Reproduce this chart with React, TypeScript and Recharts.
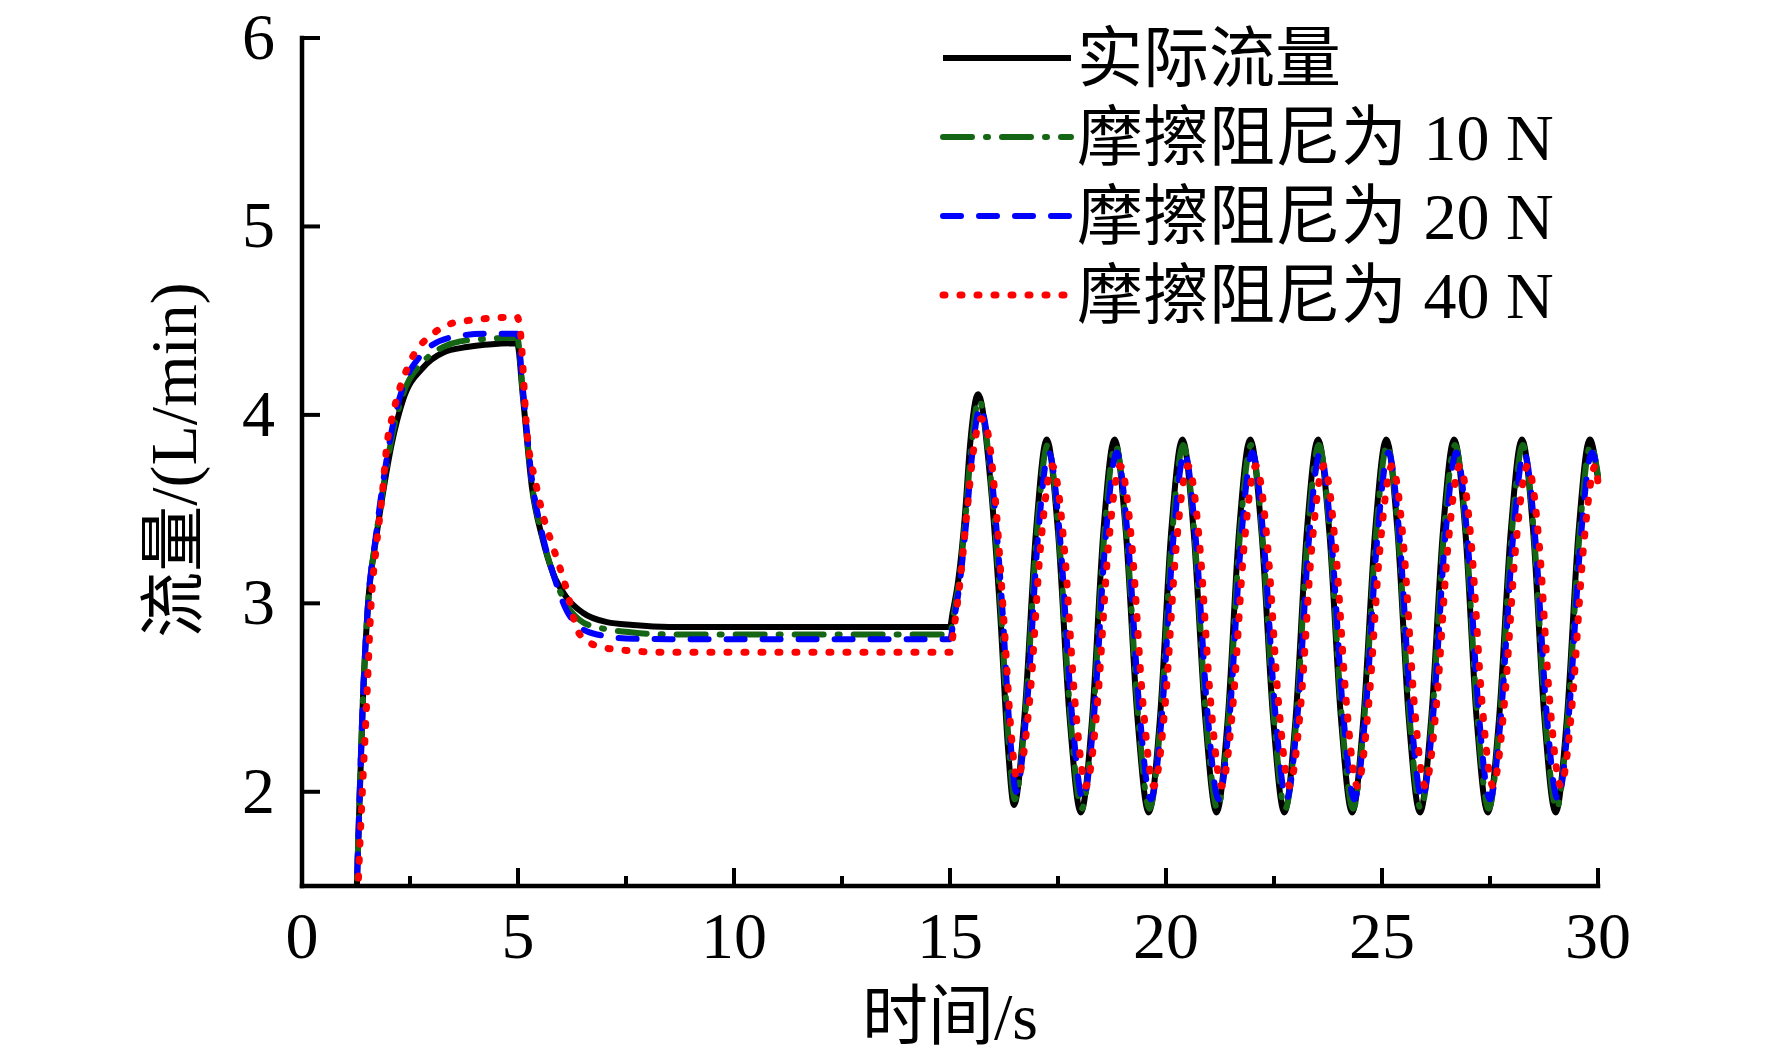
import { LineChart, Line, XAxis, YAxis, Label } from "recharts";

const FONT = '"Liberation Serif", "Times New Roman", "Noto Sans CJK SC", serif';

const xTicks = [0, 2.5, 5, 7.5, 10, 12.5, 15, 17.5, 20, 22.5, 25, 27.5, 30];
const yTicks = [2, 3, 4, 5, 6];
const seriesNames = ["实际流量", "摩擦阻尼为 10 N", "摩擦阻尼为 20 N", "摩擦阻尼为 40 N"];

// [time s, flow L/min]
const actualFlow: [number, number][] = [
  [1.2, 1.0], [1.27, 1.5], [1.41, 2.49], [1.53, 3.0], [1.7, 3.32], [1.85, 3.55],
  [2.08, 3.85], [2.34, 4.08], [2.8, 4.25], [3.26, 4.33], [3.82, 4.36], [4.4, 4.375],
  [4.98, 4.38], [5.12, 4.08], [5.32, 3.62], [5.56, 3.35], [5.81, 3.16], [6.13, 3.03],
  [6.5, 2.95], [7.06, 2.9], [7.66, 2.885], [8.5, 2.875], [15.0, 2.875], [15.06, 2.95],
  [15.19, 3.12], [15.35, 3.48], [15.46, 3.83], [15.65, 4.11], [15.93, 3.66], [16.16, 2.95],
  [16.34, 2.24], [16.48, 1.93], [16.73, 2.42], [16.99, 3.38], [17.24, 3.87],
  [17.5, 3.38], [17.77, 2.39], [18.03, 1.89], [18.29, 2.39], [18.55, 3.38], [18.81, 3.87],
  [19.07, 3.38], [19.34, 2.39], [19.6, 1.89], [19.86, 2.39], [20.12, 3.38], [20.38, 3.87],
  [20.64, 3.38], [20.91, 2.39], [21.17, 1.89], [21.43, 2.39], [21.69, 3.38], [21.95, 3.87],
  [22.21, 3.38], [22.48, 2.39], [22.74, 1.89], [23.0, 2.39], [23.26, 3.38], [23.52, 3.87],
  [23.78, 3.38], [24.05, 2.39], [24.31, 1.89], [24.57, 2.39], [24.84, 3.38], [25.1, 3.87],
  [25.36, 3.38], [25.62, 2.39], [25.88, 1.89], [26.14, 2.39], [26.41, 3.38], [26.67, 3.87],
  [26.93, 3.38], [27.19, 2.39], [27.45, 1.89], [27.71, 2.39], [27.98, 3.38], [28.24, 3.87],
  [28.5, 3.38], [28.76, 2.39], [29.02, 1.89], [29.28, 2.39], [29.55, 3.38], [29.81, 3.87],
  [30.0, 3.66],
];

const damping10: [number, number][] = [
  [1.2, 1.0], [1.27, 1.5], [1.41, 2.49], [1.53, 3.0], [1.7, 3.33], [1.85, 3.57],
  [2.08, 3.88], [2.34, 4.11], [2.8, 4.28], [3.26, 4.36], [3.66, 4.39], [4.4, 4.405],
  [4.98, 4.41], [5.12, 4.1], [5.32, 3.64], [5.56, 3.36], [5.81, 3.16], [6.13, 2.99],
  [6.5, 2.9], [6.9, 2.87], [7.66, 2.845], [8.5, 2.835], [15.0, 2.835], [15.07, 2.92],
  [15.2, 3.1], [15.36, 3.46], [15.48, 3.8], [15.67, 4.08], [15.95, 3.65], [16.18, 2.96],
  [16.36, 2.26], [16.5, 1.96], [16.75, 2.43], [17.01, 3.37], [17.26, 3.84],
  [17.52, 3.36], [17.79, 2.39], [18.05, 1.91], [18.31, 2.39], [18.57, 3.36], [18.83, 3.84],
  [19.09, 3.36], [19.36, 2.39], [19.62, 1.91], [19.88, 2.39], [20.14, 3.36], [20.4, 3.84],
  [20.66, 3.36], [20.93, 2.39], [21.19, 1.91], [21.45, 2.39], [21.71, 3.36], [21.97, 3.84],
  [22.23, 3.36], [22.5, 2.39], [22.76, 1.91], [23.02, 2.39], [23.28, 3.36], [23.54, 3.84],
  [23.8, 3.36], [24.07, 2.39], [24.33, 1.91], [24.59, 2.39], [24.86, 3.36], [25.12, 3.84],
  [25.38, 3.36], [25.64, 2.39], [25.9, 1.91], [26.16, 2.39], [26.43, 3.36], [26.69, 3.84],
  [26.95, 3.36], [27.21, 2.39], [27.47, 1.91], [27.73, 2.39], [28.0, 3.36], [28.26, 3.84],
  [28.52, 3.36], [28.78, 2.39], [29.04, 1.91], [29.3, 2.39], [29.57, 3.36], [29.83, 3.84],
  [30.0, 3.68],
];

const damping20: [number, number][] = [
  [1.2, 1.0], [1.27, 1.5], [1.41, 2.49], [1.53, 3.0], [1.7, 3.34], [1.85, 3.6],
  [2.08, 3.92], [2.34, 4.15], [2.73, 4.31], [3.43, 4.41], [4.19, 4.43], [4.98, 4.43],
  [5.12, 4.12], [5.32, 3.66], [5.56, 3.37], [5.81, 3.16], [6.13, 2.96], [6.4, 2.88],
  [6.74, 2.84], [7.66, 2.812], [8.5, 2.81], [15.0, 2.81], [15.08, 2.9], [15.21, 3.08],
  [15.38, 3.44], [15.5, 3.76], [15.7, 4.04], [15.98, 3.64], [16.21, 2.98], [16.39, 2.3],
  [16.53, 2.0], [16.78, 2.45], [17.04, 3.36], [17.29, 3.8],
  [17.55, 3.34], [17.82, 2.42], [18.08, 1.96], [18.34, 2.42], [18.6, 3.34], [18.86, 3.8],
  [19.12, 3.34], [19.39, 2.42], [19.65, 1.96], [19.91, 2.42], [20.17, 3.34], [20.43, 3.8],
  [20.69, 3.34], [20.96, 2.42], [21.22, 1.96], [21.48, 2.42], [21.74, 3.34], [22.0, 3.8],
  [22.26, 3.34], [22.53, 2.42], [22.79, 1.96], [23.05, 2.42], [23.31, 3.34], [23.57, 3.8],
  [23.83, 3.34], [24.1, 2.42], [24.36, 1.96], [24.62, 2.42], [24.89, 3.34], [25.15, 3.8],
  [25.41, 3.34], [25.67, 2.42], [25.93, 1.96], [26.19, 2.42], [26.46, 3.34], [26.72, 3.8],
  [26.98, 3.34], [27.24, 2.42], [27.5, 1.96], [27.76, 2.42], [28.03, 3.34], [28.29, 3.8],
  [28.55, 3.34], [28.81, 2.42], [29.07, 1.96], [29.33, 2.42], [29.6, 3.34], [29.86, 3.8],
  [30.0, 3.7],
];

const damping40: [number, number][] = [
  [1.22, 1.0], [1.3, 1.5], [1.5, 2.49], [1.6, 3.0], [1.72, 3.3], [1.85, 3.56],
  [1.97, 3.85], [2.1, 4.0], [2.5, 4.28], [3.03, 4.43], [3.4, 4.48], [3.82, 4.5],
  [4.5, 4.515], [4.98, 4.52], [5.05, 4.45], [5.21, 3.9], [5.4, 3.65], [5.6, 3.45],
  [5.81, 3.3], [6.13, 3.07], [6.37, 2.86], [6.6, 2.8], [6.9, 2.77], [7.5, 2.75],
  [8.45, 2.74], [15.0, 2.74], [15.08, 2.85], [15.25, 3.15], [15.4, 3.5], [15.55, 3.82],
  [15.72, 3.98], [15.86, 3.92], [16.05, 3.55], [16.25, 2.9], [16.42, 2.3], [16.55, 2.07],
  [16.62, 2.1], [16.85, 2.5], [17.1, 3.31], [17.37, 3.73],
  [17.45, 3.68], [17.64, 3.31], [17.9, 2.46], [18.15, 2.03], [18.22, 2.08], [18.41, 2.46],
  [18.67, 3.31], [18.94, 3.73], [19.02, 3.68], [19.21, 3.31], [19.47, 2.46], [19.72, 2.03],
  [19.79, 2.08], [19.98, 2.46], [20.24, 3.31], [20.51, 3.73], [20.59, 3.68], [20.78, 3.31],
  [21.04, 2.46], [21.29, 2.03], [21.36, 2.08], [21.55, 2.46], [21.81, 3.31], [22.08, 3.73],
  [22.16, 3.68], [22.35, 3.31], [22.61, 2.46], [22.86, 2.03], [22.93, 2.08], [23.12, 2.46],
  [23.38, 3.31], [23.65, 3.73], [23.73, 3.68], [23.92, 3.31], [24.18, 2.46], [24.43, 2.03],
  [24.5, 2.08], [24.69, 2.46], [24.96, 3.31], [25.23, 3.73], [25.31, 3.68], [25.5, 3.31],
  [25.75, 2.46], [26.0, 2.03], [26.07, 2.08], [26.26, 2.46], [26.53, 3.31], [26.8, 3.73],
  [26.88, 3.68], [27.07, 3.31], [27.32, 2.46], [27.57, 2.03], [27.64, 2.08], [27.83, 2.46],
  [28.1, 3.31], [28.37, 3.73], [28.45, 3.68], [28.64, 3.31], [28.89, 2.46], [29.14, 2.03],
  [29.21, 2.08], [29.4, 2.46], [29.67, 3.31], [29.94, 3.73], [30.0, 3.64],
];

const toPoints = (rows: [number, number][]) => rows.map(([t, v]) => ({ t, v }));

const series = [
  { name: seriesNames[0], rows: actualFlow, color: "#000000", width: 6, dash: undefined },
  { name: seriesNames[1], rows: damping10, color: "#146614", width: 6, dash: "29 14 2 14" },
  { name: seriesNames[2], rows: damping20, color: "#0000ff", width: 6, dash: "18 18" },
  { name: seriesNames[3], rows: damping40, color: "#ff0000", width: 7, dash: "2 15" },
];

function XTick({ x, y, payload }: any) {
  const major = payload.value % 5 === 0;
  return (
    <g>
      <line x1={x} x2={x} y1={y} y2={y - (major ? 18 : 10)} stroke="#000" strokeWidth={4} />
      {major && (
        <text x={x} y={y + 72} textAnchor="middle" fontSize={66} fontFamily={FONT} fill="#000">
          {payload.value}
        </text>
      )}
    </g>
  );
}

function YTick({ x, y, payload }: any) {
  return (
    <g>
      <line x1={x} x2={x + 18} y1={y} y2={y} stroke="#000" strokeWidth={4} />
      <text x={x - 27} y={y + 21} textAnchor="end" fontSize={66} fontFamily={FONT} fill="#000">
        {payload.value}
      </text>
    </g>
  );
}

function LegendBox() {
  return (
    <svg width={700} height={340} style={{ position: "absolute", left: 925, top: 0 }}>
      {series.map((s, i) => {
        const cy = 58 + i * 79;
        return (
          <g key={s.name}>
            <line
              x1={10}
              x2={138}
              y1={cy}
              y2={cy}
              stroke={s.color}
              strokeWidth={s.width}
              strokeDasharray={s.dash}
              strokeLinecap={s.dash ? "round" : "butt"}
            />
            <text x={144} y={cy} dominantBaseline="central" fontSize={66} fontFamily={FONT} fill="#000">
              {s.name}
            </text>
          </g>
        );
      })}
    </svg>
  );
}

export default function App() {
  return (
    <div style={{ position: "relative", width: 1750, height: 1053, marginTop: -8, background: "#fff" }}>
      <LineChart width={1750} height={1053} margin={{ top: 38, right: 160, bottom: 0, left: 0 }}>
        <XAxis
          dataKey="t"
          type="number"
          domain={[0, 30]}
          ticks={xTicks}
          interval={0}
          height={167}
          tickSize={0}
          tickMargin={0}
          tickLine={false}
          tick={<XTick />}
          axisLine={{ stroke: "#000", strokeWidth: 4.5, strokeLinecap: "square" }}
        >
          <Label
            content={(p: any) => {
              const vb = p.viewBox || { x: 294, y: 886, width: 1296, height: 167 };
              return (
                <text
                  x={vb.x + vb.width / 2}
                  y={vb.y + 130}
                  textAnchor="middle"
                  dominantBaseline="central"
                  fontSize={66}
                  fontFamily={FONT}
                  fill="#000"
                >
                  时间/s
                </text>
              );
            }}
          />
        </XAxis>
        <YAxis
          dataKey="v"
          type="number"
          domain={[1.5, 6]}
          ticks={yTicks}
          interval={0}
          allowDataOverflow
          width={294}
          tickSize={0}
          tickMargin={0}
          tickLine={false}
          tick={<YTick />}
          axisLine={{ stroke: "#000", strokeWidth: 4.5, strokeLinecap: "square" }}
        >
          <Label
            content={(p: any) => {
              const vb = p.viewBox || { x: 0, y: 38, width: 294, height: 848 };
              const cx = vb.x + 165;
              const cy = vb.y + vb.height / 2 - 2;
              return (
                <text
                  x={cx}
                  y={cy}
                  transform={`rotate(-90, ${cx}, ${cy})`}
                  textAnchor="middle"
                  dominantBaseline="central"
                  fontSize={66}
                  fontFamily={FONT}
                  fill="#000"
                >
                  流量/(L/min)
                </text>
              );
            }}
          />
        </YAxis>
        {series.map((s) => (
          <Line
            key={s.name}
            data={toPoints(s.rows)}
            dataKey="v"
            name={s.name}
            type="monotone"
            stroke={s.color}
            strokeWidth={s.width}
            strokeDasharray={s.dash}
            strokeLinecap={s.dash ? "round" : "butt"}
            dot={false}
            activeDot={false}
            isAnimationActive={false}
          />
        ))}
      </LineChart>
      <LegendBox />
    </div>
  );
}
